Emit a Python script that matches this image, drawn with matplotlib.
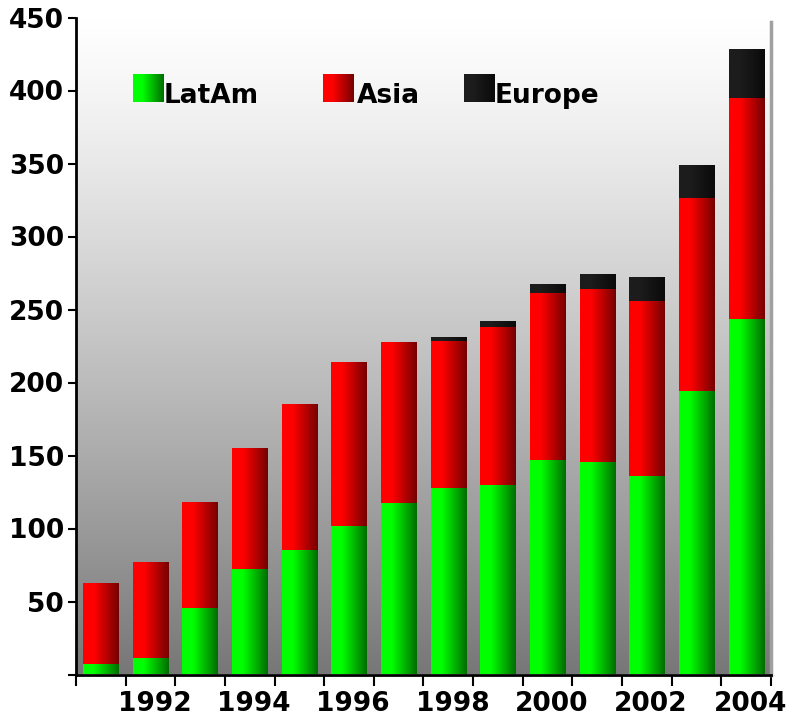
import numpy as np
import matplotlib
matplotlib.use("Agg")
import matplotlib.pyplot as plt
from matplotlib.transforms import ScaledTranslation

years = list(range(1991, 2005))
latam = [7, 11, 45.5, 72, 85, 102, 117.5, 128, 130, 147, 145.5, 136, 194, 243.5]
asia = [55, 65.5, 72, 82.5, 99.5, 112, 110, 100.5, 108, 114.5, 118.5, 120, 132.5, 151.5]
europe = [0, 0, 0, 0, 0, 0, 0, 2.5, 4, 6, 10, 16, 22.5, 33.5]
series = ["LatAm", "Asia", "Europe"]

# left colour / right colour of each bar's horizontal shading
shades = {
    "LatAm": ((0.0, 1.0, 0.0), (0.0, 0.43, 0.0)),
    "Asia": ((1.0, 0.0, 0.0), (0.46, 0.0, 0.0)),
    "Europe": ((0.11, 0.11, 0.11), (0.04, 0.04, 0.04)),
}

plt.rcParams["font.family"] = "DejaVu Sans"


def hgrad(c0, c1, n=64):
    t = np.linspace(0, 1, n)
    f = np.clip((t - 0.3) / 0.7, 0, 1)
    c0 = np.array(c0)
    c1 = np.array(c1)
    rgb = c0[None, :] * (1 - f[:, None]) + c1[None, :] * f[:, None]
    return rgb[None, :, :]


fig = plt.figure(figsize=(7.9, 7.18), dpi=100)
ax = fig.add_axes([76 / 790, 43.5 / 718, 695 / 790, 657 / 718])

# vertical grey background, white at the top
tt = np.linspace(0, 1, 256)
v = 1 - (1 - 0.467) * tt ** 1.2
bg = np.repeat(v[:, None], 3, axis=1)[:, None, :]
ax.imshow(bg, extent=[0, 1, 0, 1], transform=ax.transAxes, aspect="auto",
          zorder=0, interpolation="bilinear")

x = np.arange(len(years))
bottom = np.zeros(len(years))
for name, vals in zip(series, [latam, asia, europe]):
    bars = ax.bar(x, vals, width=0.71, bottom=bottom, color=shades[name][0],
                  linewidth=0, zorder=2)
    bottom = bottom + np.array(vals)
    g = hgrad(*shades[name])
    for p in bars.patches:
        if p.get_height() <= 0:
            continue
        x0, y0 = p.get_x(), p.get_y()
        ax.imshow(g, extent=[x0, x0 + p.get_width(), y0, y0 + p.get_height()],
                  aspect="auto", zorder=3, interpolation="bilinear")
        p.set_visible(False)

ax.set_xlim(-0.5, len(years) - 0.5)
ax.set_ylim(0, 450)

# ticks at year boundaries, labels on even years
ax.set_xticks(np.arange(-0.5, len(years), 1.0))
ax.set_xticklabels([])
ax.tick_params(axis="x", which="major", length=8, width=1.5, direction="out")
ax.set_xticks(x[1::2], minor=True)
ax.set_xticklabels([str(y) for y in years[1::2]], minor=True,
                   fontsize=19, fontweight="bold")
ax.tick_params(axis="x", which="minor", length=0, pad=12)
for lab in ax.get_xticklabels(minor=True):
    lab.set_transform(lab.get_transform() + ScaledTranslation(4 / 100, 0, fig.dpi_scale_trans))

ax.set_yticks(np.arange(0, 451, 50))
ax.set_yticklabels([""] + [str(v) for v in range(50, 451, 50)],
                   fontsize=19, fontweight="bold")
ax.tick_params(axis="y", length=6, width=1.5, direction="out", pad=2.5)

ax.spines["top"].set_visible(False)
ax.spines["left"].set_linewidth(2)
ax.spines["bottom"].set_linewidth(2)
ax.spines["right"].set_color("#a0a0a0")
ax.spines["right"].set_linewidth(2.5)
ax.spines["right"].set_bounds(0, 447)
for s in ax.spines.values():
    s.set_zorder(5)

# legend drawn in axes fraction
leg_x = [0.082, 0.3554, 0.5583]
text_x = [0.1266, 0.404, 0.6029]
for name, lx, tx in zip(series, leg_x, text_x):
    ax.imshow(hgrad(*shades[name]), extent=[lx, lx + 0.0446, 0.8718, 0.914],
              transform=ax.transAxes, aspect="auto", zorder=4,
              interpolation="bilinear")
    ax.text(tx, 0.870, name, transform=ax.transAxes, fontsize=19,
            fontweight="bold", va="baseline", ha="left", zorder=4)

ax.set_xlim(-0.5, len(years) - 0.5)
ax.set_ylim(0, 450)

fig.savefig("out.png", dpi=100)
